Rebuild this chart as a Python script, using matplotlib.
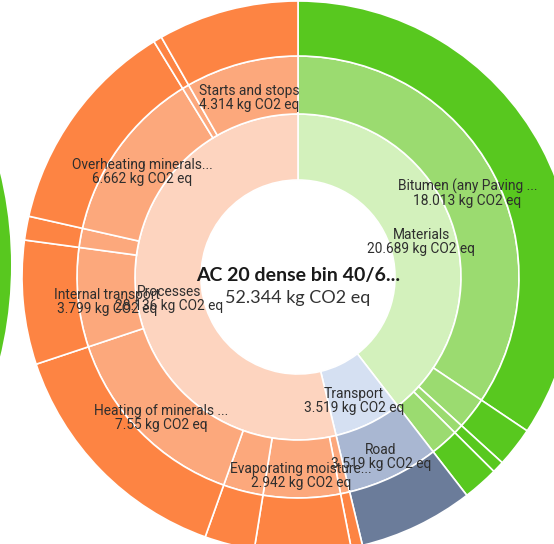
import numpy as np
import matplotlib.pyplot as plt

plt.rcParams['font.family'] = ['Roboto', 'DejaVu Sans']

product = 'AC 20 dense bin 40/6...'
unit = 'kg CO2 eq'

groups = ['Materials', 'Transport', 'Processes']

materials_names = ['Bitumen (any Paving ...', '', '', '']
materials_values = [18.013, 1.22, 0.366, 1.09]

transport_names = ['Road']
transport_values = [3.519]

processes_names = ['', 'Evaporating moisture...', '', 'Heating of minerals ...',
                   'Internal transport', '', 'Overheating minerals...', '',
                   'Starts and stops']
processes_values = [0.35, 2.942, 1.53, 7.55, 3.799, 0.73, 6.662, 0.259, 4.314]

# light / mid / dark shade per group, inner ring to outer ring
shades = {
    'Materials': ['#d3f1bc', '#9bdb70', '#58c81f'],
    'Transport': ['#d5e0f2', '#a9b7d2', '#6b7c9a'],
    'Processes': ['#fdd4bf', '#fca87c', '#fd8443'],
}

children = [(materials_names, materials_values),
            (transport_names, transport_values),
            (processes_names, processes_values)]
group_values = [round(sum(v), 3) for _, v in children]
total = round(sum(group_values), 3)

fig = plt.figure(figsize=(5.54, 5.44), dpi=100)
ax = fig.add_axes([0, 0, 1, 1])

cx, cy = 298, 267
r0, r1, r2, r3 = 97, 163, 221, 276
edge = dict(edgecolor='white', linewidth=1.2)

# inner ring: groups
ax.pie(group_values, radius=r1, center=(cx, cy), startangle=90, counterclock=False,
       colors=[shades[g][0] for g in groups], wedgeprops=dict(width=r1 - r0, **edge),
       frame=True)

# middle and outer rings: items of each group
leaf_names = [n for names, _ in children for n in names]
leaf_values = [v for _, vals in children for v in vals]
leaf_groups = [g for g, (_, vals) in zip(groups, children) for _ in vals]
ax.pie(leaf_values, radius=r2, center=(cx, cy), startangle=90, counterclock=False,
       colors=[shades[g][1] for g in leaf_groups], wedgeprops=dict(width=r2 - r1, **edge),
       frame=True)
ax.pie(leaf_values, radius=r3, center=(cx, cy), startangle=90, counterclock=False,
       colors=[shades[g][2] for g in leaf_groups], wedgeprops=dict(width=r3 - r2, **edge),
       frame=True)

# edge of the neighbouring ring on the left
ax.pie([1], radius=390, center=(11 - 390, 279), colors=['#58c81f'],
       wedgeprops=dict(width=60), frame=True)


def label(values, names, radius):
    bounds = np.concatenate([[0], np.cumsum(values)]) / total * 360
    for name, val, a0, a1 in zip(names, values, bounds[:-1], bounds[1:]):
        if not name:
            continue
        ang = np.deg2rad(90 - (a0 + a1) / 2)
        x = cx + radius * np.cos(ang)
        y = cy + radius * np.sin(ang)
        ax.text(x, y, name, ha='center', va='center', fontsize=9.9, color='#2e2e2e')
        ax.text(x, y - 14, f'{round(val, 3):g} {unit}', ha='center', va='center',
                fontsize=9.9, color='#2e2e2e')


label(group_values, groups, (r0 + r1) / 2)
label(leaf_values, leaf_names, (r1 + r2) / 2)

ax.text(cx, cy + 2, product, ha='center', va='center', fontsize=14,
        fontweight='bold', family=['Lato', 'DejaVu Sans'], color='#1a1a1a')
ax.text(cx, cy - 21, f'{total:g} {unit}', ha='center', va='center', fontsize=13,
        family=['Lato', 'DejaVu Sans'], color='#333333')

ax.set_xlim(0, 554)
ax.set_ylim(0, 544)
ax.set_aspect('equal')
ax.axis('off')

fig.savefig('out.png', dpi=100)
